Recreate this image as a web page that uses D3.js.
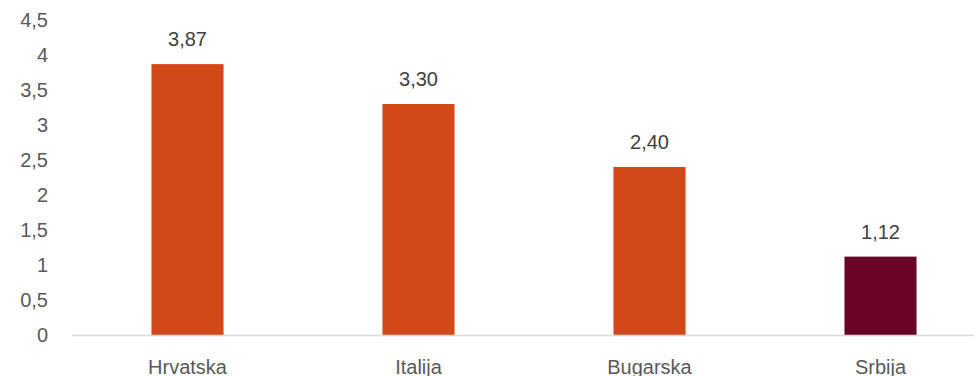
<!DOCTYPE html>
<html>
<head>
<meta charset="utf-8">
<script src="https://cdn.jsdelivr.net/npm/d3@7"></script>
<style>
html,body{margin:0;padding:0;background:#fff;overflow:hidden;}
text{font-family:"Liberation Sans",Arial,sans-serif;}
</style>
</head>
<body>
<svg id="chart" width="974" height="376"></svg>
<script>
const categories = ["Hrvatska", "Italija", "Bugarska", "Srbija"];
const values = [3.87, 3.30, 2.40, 1.12];
const valueLabels = ["3,87", "3,30", "2,40", "1,12"];
const barColors = ["#D34817", "#D34817", "#D34817", "#6A0625"];
const yTicks = [0, 0.5, 1, 1.5, 2, 2.5, 3, 3.5, 4, 4.5];
const yTickLabels = ["0", "0,5", "1", "1,5", "2", "2,5", "3", "3,5", "4", "4,5"];

const svg = d3.select("#chart");
const x = d3.scaleBand().domain(categories).range([72, 996]).paddingInner(0.688).paddingOuter(0.344);
const y = d3.scaleLinear().domain([0, 4.5]).range([335, 20]);

// y axis labels
const yAxis = d3.axisLeft(y).tickValues(yTicks).tickFormat((d, i) => yTickLabels[i]).tickSize(0).tickPadding(0);
const gy = svg.append("g").attr("transform", "translate(48,0)").call(yAxis);
gy.select(".domain").remove();
gy.selectAll("text").attr("font-size", 20).attr("fill", "#595959").attr("font-family", "Liberation Sans, Arial, sans-serif");

// bars
svg.selectAll("rect.bar").data(values).join("rect")
  .attr("class", "bar")
  .attr("x", (d, i) => x(categories[i]))
  .attr("width", x.bandwidth())
  .attr("y", d => y(d))
  .attr("height", d => y(0) - y(d))
  .attr("fill", (d, i) => barColors[i]);

// baseline
svg.append("line").attr("x1", 72).attr("x2", 974).attr("y1", y(0) + 0.5).attr("y2", y(0) + 0.5)
  .attr("stroke", "#d9d9d9").attr("stroke-width", 1.5);

// value labels
svg.selectAll("text.val").data(values).join("text")
  .attr("class", "val")
  .attr("x", (d, i) => x(categories[i]) + x.bandwidth() / 2)
  .attr("y", d => y(d) - 18)
  .attr("text-anchor", "middle")
  .attr("font-size", 20)
  .attr("fill", "#404040")
  .text((d, i) => valueLabels[i]);

// x axis labels
const xAxis = d3.axisBottom(x).tickSize(0).tickPadding(0);
const gx = svg.append("g").attr("transform", "translate(0,360)").call(xAxis);
gx.select(".domain").remove();
gx.selectAll("text").attr("font-size", 20).attr("fill", "#595959").attr("font-family", "Liberation Sans, Arial, sans-serif");
</script>
</body>
</html>
